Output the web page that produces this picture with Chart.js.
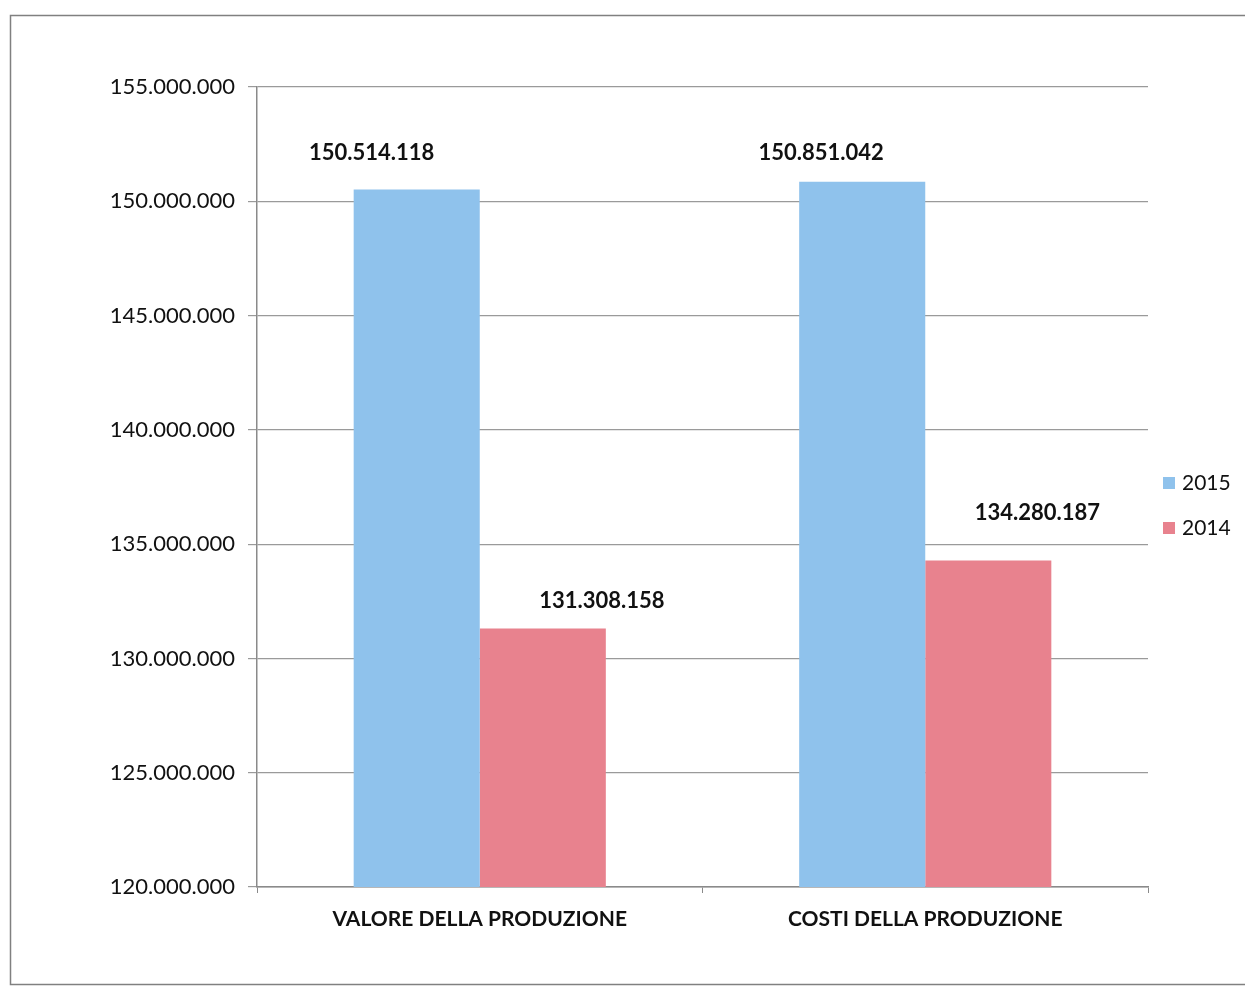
<!DOCTYPE html>
<html>
<head>
<meta charset="utf-8">
<script src="https://cdn.jsdelivr.net/npm/chart.js@4/dist/chart.umd.min.js"></script>
<style>
  html, body { margin: 0; padding: 0; background: #ffffff; }
  #wrap { width: 1245px; height: 989px; position: relative; }
</style>
</head>
<body>
<div id="wrap"><canvas id="chart"></canvas></div>
<script>
Chart.defaults.font.family = 'Lato';
Chart.defaults.color = '#111111';

const categories = ['VALORE DELLA PRODUZIONE', 'COSTI DELLA PRODUZIONE'];
const seriesNames = ['2015', '2014'];
const values2015 = [150514118, 150851042];
const values2014 = [131308158, 134280187];
const yTicks = [120000000, 125000000, 130000000, 135000000, 140000000, 145000000, 150000000, 155000000];

const blue = 'rgb(143, 194, 236)';
const red = 'rgb(232, 130, 142)';

// thousands with dots, italian style
function fmt(n) {
    return String(Math.round(n)).replace(/\B(?=(\d{3})+(?!\d))/g, '.');
}

// grey frame around the whole chart
const framePlugin = {
    id: 'frame',
    beforeDraw: (chart) => {
        const ctx = chart.ctx;
        ctx.save();
        ctx.strokeStyle = '#808080';
        ctx.lineWidth = 1.5;
        ctx.strokeRect(10.5, 15.5, 1250, 969);
        ctx.restore();
    }
};

// value labels above the bars, shifted like in the original
const labelPlugin = {
    id: 'barLabels',
    afterDatasetsDraw: (chart) => {
        const ctx = chart.ctx;
        // [dataset][point] -> [dx, dy] from the bar top
        const shift = [
            [[-45, -37], [-41, -29]],
            [[59, -28], [49, -48]]
        ];
        ctx.save();
        ctx.font = 'bold 22px Lato';
        ctx.fillStyle = '#111111';
        ctx.textAlign = 'center';
        ctx.textBaseline = 'middle';
        chart.data.datasets.forEach((ds, di) => {
            const meta = chart.getDatasetMeta(di);
            meta.data.forEach((bar, i) => {
                ctx.fillText(fmt(ds.data[i]), bar.x + shift[di][i][0], bar.y + shift[di][i][1]);
            });
        });
        ctx.restore();
    }
};

// legend on the right, drawn by hand so the plot area stays put
const legendPlugin = {
    id: 'sideLegend',
    afterDraw: (chart) => {
        const ctx = chart.ctx;
        const area = chart.chartArea;
        const mid = (area.top + area.bottom) / 2 + 18;
        ctx.save();
        ctx.font = '21px Lato';
        ctx.textBaseline = 'middle';
        chart.data.datasets.forEach((ds, i) => {
            const y = mid - 22 + i * 45;
            ctx.fillStyle = ds.backgroundColor;
            ctx.fillRect(area.right + 15, y - 6, 12, 12);
            ctx.fillStyle = '#111111';
            ctx.fillText(ds.label, area.right + 34, y);
        });
        ctx.restore();
    }
};

new Chart(document.getElementById('chart'), {
    type: 'bar',
    data: {
        labels: categories,
        datasets: [
            { label: seriesNames[0], data: values2015, backgroundColor: blue },
            { label: seriesNames[1], data: values2014, backgroundColor: red }
        ]
    },
    options: {
        responsive: true,
        maintainAspectRatio: false,
        animation: false,
        layout: { padding: { top: 87, right: 97, left: 0, bottom: 0 } },
        datasets: {
            bar: { categoryPercentage: 0.566, barPercentage: 1.0 }
        },
        plugins: {
            legend: { display: false },
            tooltip: { enabled: false }
        },
        scales: {
            x: {
                grid: {
                    offset: true,
                    drawOnChartArea: false,
                    drawTicks: true,
                    tickLength: 6,
                    color: '#8a8a8a'
                },
                border: { color: '#8a8a8a', width: 1.5 },
                ticks: {
                    font: { size: 21, weight: 'bold' },
                    color: '#111111',
                    padding: 14
                },
                afterFit: (scale) => { scale.height = 989 - 887; }
            },
            y: {
                min: 120000000,
                max: 155000000,
                afterBuildTicks: (scale) => {
                    scale.ticks = yTicks.map(v => ({ value: v }));
                },
                grid: {
                    color: '#9a9a9a',
                    lineWidth: 1.2,
                    drawTicks: true,
                    tickLength: 9
                },
                border: { color: '#8a8a8a', width: 1.5 },
                ticks: {
                    font: { size: 22 },
                    color: '#111111',
                    padding: 13,
                    callback: (v) => fmt(v)
                },
                afterFit: (scale) => { scale.width = 257; }
            }
        }
    },
    plugins: [framePlugin, labelPlugin, legendPlugin]
});
</script>
</body>
</html>
